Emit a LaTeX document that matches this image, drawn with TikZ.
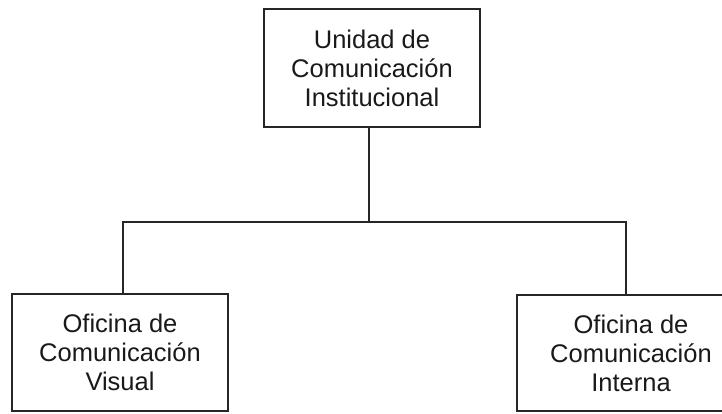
\documentclass[tikz,border=0pt]{standalone}
\usepackage{fontspec}
\setmainfont{Liberation Sans}
\begin{document}
\begin{tikzpicture}[x=1pt,y=-1pt,
  box/.style={draw=black!85, line width=1.6pt, align=center, inner sep=0pt,
    font=\fontsize{25.5pt}{29pt}\selectfont, text=black!90},
  link/.style={draw=black!85, line width=1.6pt}]
\useasboundingbox (0,0) rectangle (722,413);
\clip (0,0) rectangle (722,413);
\node[box, minimum width=216pt, minimum height=118pt] (top) at (372,68) {Unidad de\\Comunicación\\Institucional};
\node[box, minimum width=216pt, minimum height=117pt] (left) at (120,352.5) {Oficina de\\Comunicación\\Visual};
\node[box, minimum width=228pt, minimum height=116pt] (right) at (631,353) {Oficina de\\Comunicación\\Interna};
\coordinate (jm) at (369,222);
\coordinate (jl) at (123,222);
\coordinate (jr) at (626,222);
\draw[link] (jm |- top.south) -- (jm);
\draw[link] (jl |- left.north) -- (jl) -- (jr) -- (jr |- right.north);
\end{tikzpicture}
\end{document}
